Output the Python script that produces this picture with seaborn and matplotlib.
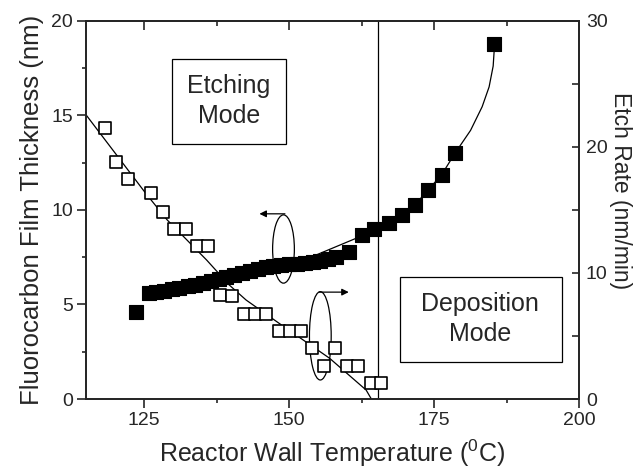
import numpy as np
import pandas as pd
import matplotlib
matplotlib.use("Agg")
import matplotlib.pyplot as plt
import seaborn as sns
from matplotlib.patches import Ellipse, Rectangle
from matplotlib.ticker import MultipleLocator

# data
# filled squares: film thickness (left axis, nm)
temp_film = [123.6, 125.9, 127.1, 128.4, 129.8, 131.1, 132.5, 133.8, 135.2, 136.5,
             137.9, 139.2, 140.6, 141.9, 143.3, 144.6, 146.0, 147.3, 148.7, 150.0,
             151.4, 152.7, 154.1, 155.4, 156.8, 158.1, 160.3, 162.5, 164.7, 167.2,
             169.5, 171.7, 174.0, 176.3, 178.7, 185.4]
film = [4.62, 5.62, 5.67, 5.73, 5.80, 5.88, 5.97, 6.05, 6.14, 6.24,
        6.34, 6.45, 6.56, 6.66, 6.76, 6.86, 6.96, 7.04, 7.10, 7.13,
        7.16, 7.20, 7.25, 7.30, 7.40, 7.50, 7.76, 8.68, 8.98, 9.30,
        9.74, 10.26, 11.06, 11.85, 13.03, 18.77]

# open squares: etch rate (right axis, nm/min)
temp_etch = [118.2, 120.1, 122.2, 126.2, 128.2, 130.2, 132.2, 134.2, 136.1, 138.1,
             140.1, 142.2, 144.1, 146.0, 148.2, 150.1, 152.1, 154.0, 156.1, 158.0,
             160.0, 161.9, 164.2, 165.9]
etch = [21.5, 18.8, 17.45, 16.35, 14.8, 13.45, 13.45, 12.1, 12.1, 8.25,
        8.2, 6.75, 6.75, 6.75, 5.4, 5.4, 5.4, 4.05, 2.65, 4.05,
        2.65, 2.65, 1.3, 1.3]

# guide curves
guide_film_x = [126.0, 140.0, 150.0, 153.4, 161.6, 164.7, 167.2, 169.5, 171.7, 174.0,
                176.3, 178.7, 181.3, 183.3, 184.5, 185.2, 185.45]
guide_film_y = [5.62, 6.55, 7.15, 7.45, 8.50, 8.98, 9.30, 9.74, 10.26, 11.06,
                11.85, 13.03, 14.2, 15.45, 16.5, 17.6, 18.77]
guide_etch_x = [114.8, 125.3, 129.0, 135.8, 139.7, 142.6, 148.3, 157.0, 163.3, 164.2]
guide_etch_y = [22.66, 16.31, 14.2, 11.02, 9.04, 7.85, 6.0, 3.23, 0.71, 0.0]

boundary_temp = 165.3

sns.set_style("ticks")
plt.rcParams['font.family'] = ['Liberation Sans', 'DejaVu Sans']
plt.rcParams['mathtext.fontset'] = 'custom'
plt.rcParams['mathtext.rm'] = 'Liberation Sans'
plt.rcParams['mathtext.it'] = 'Liberation Sans'

df_film = pd.DataFrame({'T': temp_film, 'thk': film})
df_etch = pd.DataFrame({'T': temp_etch, 'rate': etch})

fig, ax = plt.subplots(figsize=(6.41, 4.70), dpi=100)
fig.subplots_adjust(left=86/641, right=579/641, bottom=1-399/470, top=1-20.7/470)
ax2 = ax.twinx()

# left axis: film thickness
sns.lineplot(x=guide_film_x, y=guide_film_y, ax=ax, color='black', lw=0.9,
             sort=False, estimator=None)
sns.scatterplot(data=df_film, x='T', y='thk', ax=ax, marker='s', s=90,
                color='black', edgecolor='black', linewidth=0.8, zorder=3)
ax.axvline(boundary_temp, color='black', lw=0.9)

# right axis: etch rate
sns.lineplot(x=guide_etch_x, y=guide_etch_y, ax=ax2, color='black', lw=0.9,
             sort=False, estimator=None)
sns.scatterplot(data=df_etch, x='T', y='rate', ax=ax2, marker='s', s=70,
                facecolor='white', edgecolor='black', linewidth=1.2, zorder=3)

ax.set_xlim(115, 200)
ax.set_ylim(0, 20)
ax2.set_ylim(0, 30)

ax.xaxis.set_major_locator(MultipleLocator(25))
ax.xaxis.set_minor_locator(MultipleLocator(12.5))
ax.yaxis.set_major_locator(MultipleLocator(5))
ax.yaxis.set_minor_locator(MultipleLocator(2.5))
ax2.yaxis.set_major_locator(MultipleLocator(10))
ax2.yaxis.set_minor_locator(MultipleLocator(5))

ax.tick_params(axis='both', which='major', direction='out', length=6.5, width=1.2,
               labelsize=14, pad=3)
ax.tick_params(axis='both', which='minor', direction='out', length=3.2, width=1.2)
ax2.tick_params(axis='y', which='major', direction='in', length=5, width=1.2,
                labelsize=14, pad=5)
ax2.tick_params(axis='y', which='minor', direction='in', length=5, width=1.2)

# top ticks point inwards, drawn on a secondary x axis
axt = ax.secondary_xaxis('top')
axt.xaxis.set_major_locator(MultipleLocator(25))
axt.xaxis.set_minor_locator(MultipleLocator(12.5))
axt.tick_params(which='major', direction='in', length=6.5, width=1.2, labeltop=False)
axt.tick_params(which='minor', direction='in', length=3.5, width=1.2)
axt.spines['top'].set_linewidth(1.3)
ax.tick_params(axis='x', which='both', top=False)

for a in (ax, ax2):
    for s in a.spines.values():
        s.set_linewidth(1.3)

ax.set_xlabel(r'Reactor Wall Temperature ($^{0}$C)', fontsize=18, labelpad=6)
ax.set_ylabel('Fluorocarbon Film Thickness (nm)', fontsize=18.5, labelpad=5)
ax2.set_ylabel('Etch Rate (nm/min)', fontsize=16.5, rotation=270, labelpad=22)
ax2.yaxis.set_label_coords(1.108, 0.55)

# mode boxes
ax.add_patch(Rectangle((129.8, 13.49), 19.6, 4.5, facecolor='white', edgecolor='black',
                       lw=0.9, zorder=4))
ax.text(139.6, 15.74, 'Etching\nMode', ha='center', va='center', fontsize=18,
        linespacing=1.3, zorder=5)
ax.add_patch(Rectangle((169.1, 1.97), 27.9, 4.5, facecolor='white', edgecolor='black',
                       lw=0.9, zorder=4))
ax.text(183.0, 4.22, 'Deposition\nMode', ha='center', va='center', fontsize=18,
        linespacing=1.3, zorder=5)

# ellipses with arrows pointing to the matching axis
ax.add_patch(Ellipse((149.05, 7.93), 3.75, 3.61, fill=False, edgecolor='black', lw=0.9, zorder=5))
ax.annotate('', xy=(144.9, 9.79), xytext=(149.3, 9.79),
            arrowprops=dict(arrowstyle='-|>', color='black', lw=0.9,
                            mutation_scale=10, shrinkA=0, shrinkB=0), zorder=5)
ax.add_patch(Ellipse((155.4, 3.34), 3.75, 4.67, fill=False, edgecolor='black', lw=0.9, zorder=5))
ax.annotate('', xy=(160.3, 5.65), xytext=(155.2, 5.65),
            arrowprops=dict(arrowstyle='-|>', color='black', lw=0.9,
                            mutation_scale=10, shrinkA=0, shrinkB=0), zorder=5)

fig.savefig('out.png', dpi=100)
